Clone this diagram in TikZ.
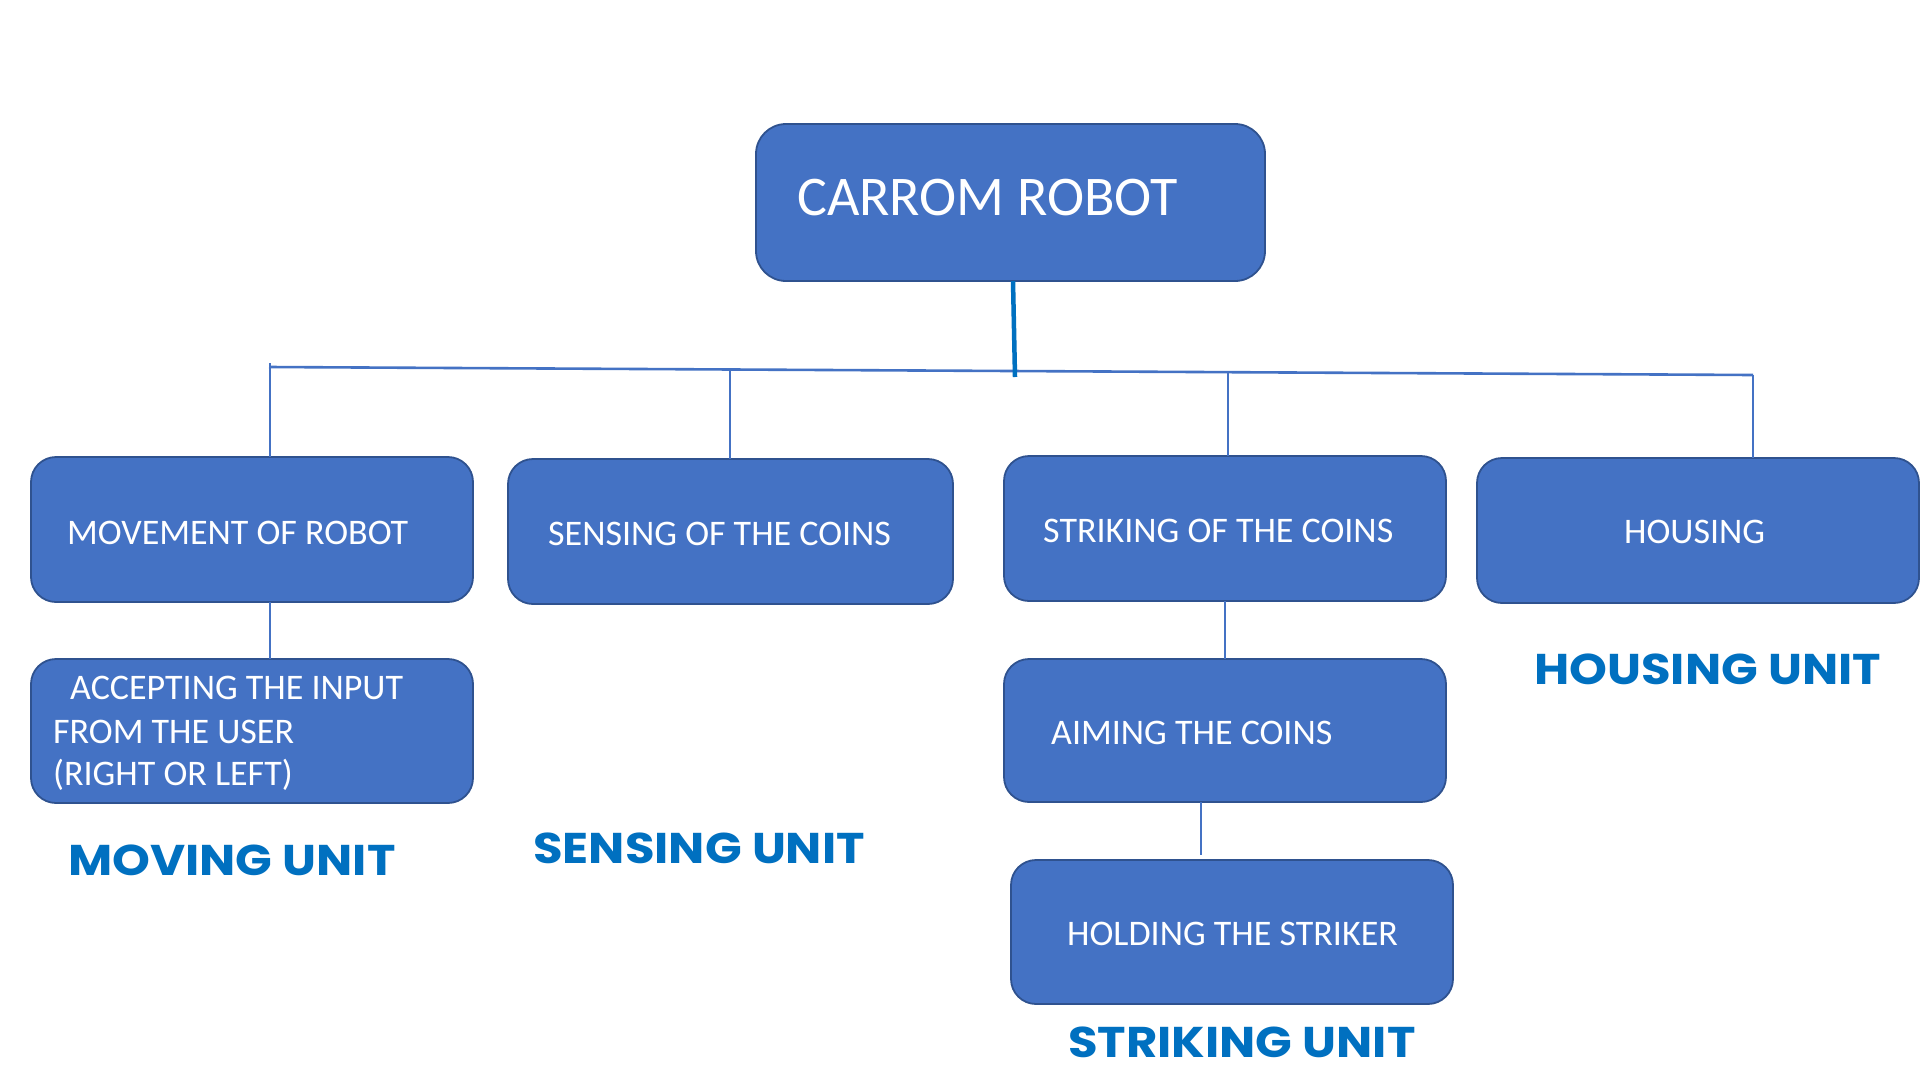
\documentclass[tikz,border=0pt]{standalone}
\usepackage{fontspec}
\setmainfont{Carlito}
\newfontfamily\unitfont{Poppins}[FakeStretch=1.12]
\usetikzlibrary{calc}
\definecolor{boxblue}{HTML}{4472C4}
\definecolor{boxedge}{HTML}{2F528F}
\definecolor{unitblue}{HTML}{0070C0}
\tikzset{
  boxnode/.style={draw=boxedge, fill=boxblue, line width=1.8pt, rounded corners=25pt,
    inner sep=0pt, outer sep=0pt, anchor=north west, minimum width=442pt, minimum height=145pt},
  boxtext/.style={text=white, anchor=base west, inner sep=0pt, font=\fontsize{36}{43}\selectfont},
  unitlabel/.style={text=unitblue, anchor=base west, inner sep=0pt, font=\unitfont\bfseries\fontsize{43}{50}\selectfont},
  link/.style={draw=boxblue, line width=2.6pt},
  mainlink/.style={draw=unitblue, line width=4.5pt}
}
\begin{document}
\begin{tikzpicture}[x=1pt,y=-1pt]
\useasboundingbox[fill=white] (0,0) rectangle (1920,1080);
% boxes
\node[boxnode, minimum width=509pt, minimum height=157pt, rounded corners=30pt] (root) at (756,124) {};
\node[boxnode] (move) at (31,457) {};
\node[boxnode, minimum width=445pt] (sense) at (508,459) {};
\node[boxnode] (strike) at (1004,456) {};
\node[boxnode] (house) at (1477,458) {};
\node[boxnode, minimum height=144pt] (accept) at (31,659) {};
\node[boxnode, minimum height=143pt] (aim) at (1004,659) {};
\node[boxnode, minimum height=144pt] (hold) at (1011,860) {};
% texts
\node[boxtext, font=\fontsize{56}{62}\selectfont] (troot) at (797,215) {CARROM ROBOT};
\node[boxtext] (tmove) at (67,544) {MOVEMENT OF ROBOT};
\node[boxtext] (tsense) at (548,545) {SENSING OF THE COINS};
\node[boxtext] (tstrike) at (1043,542) {STRIKING OF THE COINS};
\node[boxtext] (thouse) at (1624,543) {HOUSING};
\node[boxtext] (tacc1) at (70,699) {ACCEPTING THE INPUT};
\node[boxtext] (tacc2) at (53,743) {FROM THE USER};
\node[boxtext] (tacc3) at (53,785) {(RIGHT OR LEFT)};
\node[boxtext] (taim) at (1051,744) {AIMING THE COINS};
\node[boxtext] (thold) at (1067,945) {HOLDING THE STRIKER};
% unit labels
\node[unitlabel] (umove) at (68,875) {MOVING UNIT};
\node[unitlabel] (usense) at (533,863) {SENSING UNIT};
\node[unitlabel] (ustrike) at (1068,1057) {STRIKING UNIT};
\node[unitlabel] (uhouse) at (1534,684) {HOUSING UNIT};
% connectors
\coordinate (hl) at (269,367);
\coordinate (hr) at (1753,375);
\coordinate (d1) at (270,367);
\coordinate (d2) at (730,369.5);
\coordinate (d3) at (1228,372.2);
\coordinate (d4) at (1753,375);
\coordinate (rj) at (1015,377);
\draw[link] (hl) -- (hr);
\draw[link] ([yshift=4pt]d1) -- (d1 |- move.north);
\draw[link] (d2) -- (d2 |- sense.north);
\draw[link] (d3) -- (d3 |- strike.north);
\draw[link] (d4) -- (d4 |- house.north);
\draw[mainlink] ([xshift=2.5pt]root.south) -- (rj);
\draw[link] (d1 |- move.south) -- (d1 |- accept.north);
\coordinate (sx) at (1225,0);
\draw[link] (sx |- strike.south) -- (sx |- aim.north);
\coordinate (ax) at (1201,0);
\draw[link] (ax |- aim.south) -- ([yshift=5pt]ax |- hold.north);
\end{tikzpicture}
\end{document}
